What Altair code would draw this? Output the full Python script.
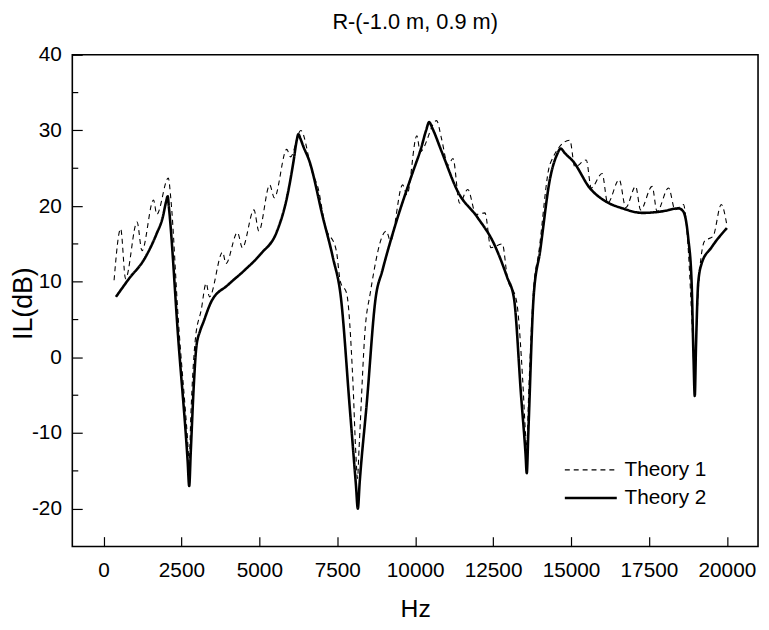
import altair as alt
import pandas as pd

FONT = "Liberation Sans"

# Theory 2 (solid curve)
t2_hz = [400, 800, 1340, 1700, 1900, 2010, 2060, 2100, 2400, 2700,
         2750, 2800, 2900, 2980, 3100, 3200, 3450, 4000, 4520, 5050,
         5570, 5880, 6100, 6200, 6250, 6320, 6400, 6610, 7040, 7360,
         7620, 7900, 8100, 8160, 8220, 8450, 8730, 8950, 9370, 9900,
         10200, 10350, 10450, 10550, 10850, 11370, 12000, 12530, 12950, 13170,
         13400, 13540, 13580, 13630, 13800, 14010, 14330, 14550, 14670, 14800,
         15070, 15600, 16120, 16650, 17290, 17920, 18450, 18600, 18760, 18870,
         18930, 18970, 19010, 19080, 19190, 19500, 20000]
t2_db = [8.0, 10.3, 13.2, 16.3, 18.5, 20.6, 21.3, 19.8, 2.4, -13.7,
         -17.0, -12.5, -3.5, 1.4, 3.5, 4.6, 7.3, 9.6, 11.5, 13.7,
         16.7, 21.0, 26.0, 28.7, 29.5, 28.9, 28.0, 25.9, 18.5, 13.2,
         7.8, -6.6, -16.9, -20.0, -16.5, -5.9, 7.8, 11.5, 17.6, 24.2,
         27.8, 30.0, 31.1, 30.3, 27.2, 21.9, 18.5, 15.0, 10.6, 7.8,
         -5.2, -12.7, -15.3, -10.0, 8.0, 14.1, 23.7, 26.8, 27.6, 27.0,
         25.9, 22.4, 20.6, 19.7, 19.1, 19.3, 19.7, 19.3, 15.8, 9.8,
         0.0, -5.1, 1.5, 9.8, 12.4, 14.5, 17.1]

# Theory 1 (dashed curve)
t1_hz = [340, 551, 709, 1077, 1235, 1606, 1710, 2080, 2160, 2400,
         2700, 2750, 2800, 2950, 3137, 3295, 3400, 3823, 3928, 4298,
         4457, 4827, 4986, 5334, 5480, 5880, 6000, 6330, 6700, 6890,
         7100, 7470, 7600, 7800, 8000, 8100, 8150, 8200, 8400, 8555,
         9072, 9208, 9598, 9737, 10054, 10160, 10687, 10846, 11055, 11213,
         11425, 11688, 11954, 12239, 12429, 12797, 12955, 13250, 13450, 13540,
         13580, 13640, 13800, 13960, 14330, 14963, 15122, 15490, 15648, 15997,
         16177, 16546, 16757, 17074, 17232, 17602, 17760, 18130, 18340, 18606,
         18750, 18900, 18970, 19030, 19100, 19290, 19557, 19820, 20000]
t1_db = [10.2, 17.0, 10.4, 17.9, 14.1, 20.8, 18.9, 23.7, 21.0, 5.0,
         -11.0, -14.0, -8.0, 2.5, 6.3, 9.8, 8.0, 13.9, 12.4, 16.5,
         14.5, 19.5, 16.7, 22.8, 21.1, 27.5, 26.5, 30.0, 24.4, 22.3,
         17.6, 14.1, 10.0, 8.5, -3.0, -13.0, -16.0, -12.0, 4.0, 8.4,
         16.7, 15.4, 22.8, 21.5, 29.3, 27.2, 31.3, 28.9, 25.4, 26.3,
         20.4, 22.2, 18.9, 19.1, 14.5, 15.0, 10.6, 7.5, -3.0, -10.0,
         -12.0, -5.0, 9.1, 13.7, 25.6, 28.7, 25.2, 26.1, 22.4, 24.3,
         20.4, 23.5, 19.8, 22.6, 19.5, 22.6, 19.3, 22.4, 19.5, 20.2,
         15.0, 3.0, -3.0, 4.0, 10.0, 15.4, 16.0, 20.2, 17.5]

series_names = ["Theory 1", "Theory 2"]
x_ticks = [0, 2500, 5000, 7500, 10000, 12500, 15000, 17500, 20000]
y_ticks = [-20, -10, 0, 10, 20, 30, 40]
y_minor = [-15, -5, 5, 15, 25, 35]

df = pd.concat([
    pd.DataFrame({"hz": t1_hz, "db": t1_db, "series": series_names[0]}),
    pd.DataFrame({"hz": t2_hz, "db": t2_db, "series": series_names[1]}),
], ignore_index=True)
minor_df = pd.DataFrame({"v": y_minor})

xscale = alt.Scale(domain=[-1000, 21000], nice=False, zero=False)
yscale = alt.Scale(domain=[-25, 40], nice=False, zero=False)

y_axis = alt.Axis(values=y_ticks, title="IL(dB)", offset=-10, tickSize=10,
                  labelPadding=11, labelExpr="'' + datum.value",
                  titleX=-59, titleY=251, titleBaseline="middle",
                  titleAlign="center", titleFontSize=27)

legend = alt.Legend(title=None, orient="none", legendX=512, legendY=408,
                    symbolType="M-2.5,0H2.5", symbolSize=441,
                    symbolStrokeColor="black", labelFont=FONT, labelFontSize=21,
                    labelColor="black", labelOffset=22, rowPadding=6, padding=0)

lines = alt.Chart(df).mark_line(interpolate="monotone", color="black").encode(
    x=alt.X("hz:Q", scale=xscale,
            axis=alt.Axis(values=x_ticks, title="Hz", format="d", offset=-10,
                          tickSize=10, labelPadding=13, titlePadding=17,
                          titleFontSize=25)),
    y=alt.Y("db:Q", scale=yscale, axis=y_axis),
    strokeDash=alt.StrokeDash("series:N",
                              scale=alt.Scale(domain=series_names, range=[[5, 4], [1, 0]]),
                              legend=legend),
    strokeWidth=alt.StrokeWidth("series:N",
                                scale=alt.Scale(domain=series_names, range=[1.1, 2.6]),
                                legend=legend),
)

minor = alt.Chart(minor_df).mark_rule(color="black", strokeWidth=1.2).encode(
    y=alt.Y("v:Q", scale=yscale, axis=y_axis),
    x=alt.value(0),
    x2=alt.value(6),
)

chart = alt.layer(lines, minor).properties(
    width=693, height=497,
    autosize=alt.AutoSizeParams(type="none"),
    padding={"left": 65, "top": 44, "right": 3, "bottom": 74},
    title=alt.TitleParams("R-(-1.0 m, 0.9 m)", font=FONT, fontSize=22,
                          fontWeight="normal", color="black", anchor="middle",
                          offset=10),
).configure_view(stroke="black", strokeWidth=1.6).configure_axis(
    domain=False, grid=False, labelFont=FONT, labelFontSize=21, labelColor="black",
    tickColor="black", tickWidth=1.2, titleFont=FONT,
    titleFontWeight="normal", titleColor="black",
)

chart.save("out.html", embed_options={"renderer": "svg", "actions": False})
